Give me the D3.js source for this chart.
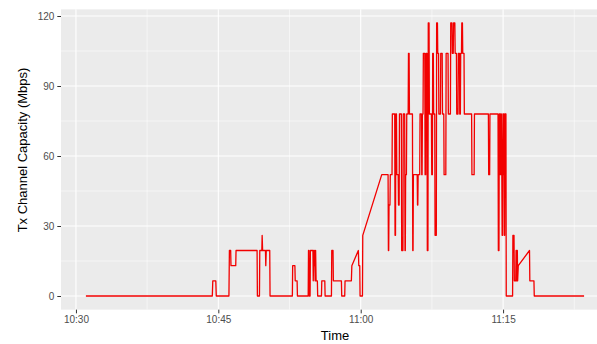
<!DOCTYPE html>
<meta charset="utf-8">
<style>
    /* ggplot-like look */
    body { margin: 0; background: #fff; }
    svg { display: block; overflow: hidden; }
    text { font-family: "Liberation Sans", Arial, Helvetica, sans-serif; }
    .panel { fill: #ebebeb; }
    .grid-major { stroke: #fff; stroke-width: 1.07px; }
    .grid-minor { stroke: #fff; stroke-width: 0.53px; }
    .line {
        fill: none;
        stroke: #f20000;
        stroke-width: 1.3px;
        stroke-linejoin: round;
    }
    .axis text { fill: #4d4d4d; font-size: 10px; }
    .axis line { stroke: #333; }
    .title { fill: #000; font-size: 13px; }
</style>
<body>
<script src="https://d3js.org/d3.v7.min.js"></script>
<script>
    // sample times (hh:mm:ss) and the channel capacity read at each one
    var times = [
        "10:31:03", "10:44:22", "10:44:25", "10:44:44", "10:44:47", "10:46:07", "10:46:10", "10:46:18",
        "10:46:20", "10:46:50", "10:46:52", "10:49:05", "10:49:07", "10:49:20", "10:49:22", "10:49:35",
        "10:49:37", "10:49:40", "10:49:58", "10:50:00", "10:50:03", "10:50:25", "10:50:27", "10:52:48",
        "10:52:50", "10:53:04", "10:53:06", "10:53:18", "10:53:20", "10:54:28", "10:54:30", "10:54:33",
        "10:54:35", "10:54:40", "10:54:42", "10:54:58", "10:55:00", "10:55:03", "10:55:06", "10:55:09",
        "10:55:12", "10:55:15", "10:55:18", "10:55:26", "10:55:28", "10:55:52", "10:55:54", "10:56:13",
        "10:56:15", "10:56:55", "10:56:57", "10:57:05", "10:57:07", "10:57:58", "10:58:00", "10:58:19",
        "10:58:21", "10:59:01", "10:59:04", "10:59:45", "10:59:48", "10:59:54", "10:59:56", "11:00:11",
        "11:00:13", "11:02:13", "11:02:34", "11:02:53", "11:02:55", "11:02:57", "11:02:59", "11:03:05",
        "11:03:07", "11:03:18", "11:03:20", "11:03:35", "11:03:37", "11:03:40", "11:03:42", "11:03:46",
        "11:03:48", "11:03:57", "11:03:59", "11:04:03", "11:04:05", "11:04:17", "11:04:19", "11:04:27",
        "11:04:29", "11:04:38", "11:04:40", "11:04:42", "11:04:44", "11:04:49", "11:04:51", "11:05:00",
        "11:05:02", "11:05:06", "11:05:08", "11:05:27", "11:05:29", "11:05:31", "11:05:33", "11:05:57",
        "11:05:59", "11:06:01", "11:06:03", "11:06:13", "11:06:15", "11:06:24", "11:06:26", "11:06:28",
        "11:06:30", "11:06:34", "11:06:36", "11:06:45", "11:06:47", "11:06:51", "11:06:53", "11:06:59",
        "11:07:01", "11:07:05", "11:07:07", "11:07:12", "11:07:14", "11:07:27", "11:07:29", "11:07:33",
        "11:07:35", "11:07:39", "11:07:41", "11:07:48", "11:07:50", "11:07:58", "11:08:00", "11:08:05",
        "11:08:07", "11:08:12", "11:08:14", "11:08:24", "11:08:26", "11:08:35", "11:08:37", "11:08:45",
        "11:08:47", "11:08:58", "11:09:00", "11:09:12", "11:09:14", "11:09:27", "11:09:29", "11:09:37",
        "11:09:39", "11:09:45", "11:09:47", "11:09:55", "11:09:57", "11:10:05", "11:10:07", "11:10:15",
        "11:10:17", "11:10:24", "11:10:26", "11:10:30", "11:10:32", "11:10:37", "11:10:39", "11:10:43",
        "11:10:45", "11:10:53", "11:10:55", "11:11:41", "11:11:43", "11:11:57", "11:11:59", "11:13:27",
        "11:13:29", "11:13:35", "11:13:37", "11:14:28", "11:14:30", "11:14:34", "11:14:36", "11:14:40",
        "11:14:42", "11:14:44", "11:14:47", "11:14:49", "11:14:52", "11:14:54", "11:14:57", "11:14:59",
        "11:15:01", "11:15:03", "11:15:06", "11:15:08", "11:15:10", "11:15:12", "11:15:18", "11:15:20",
        "11:16:00", "11:16:02", "11:16:09", "11:16:11", "11:16:20", "11:16:22", "11:16:24", "11:16:26",
        "11:16:28", "11:16:30", "11:16:32", "11:16:36", "11:17:47", "11:17:49", "11:18:15", "11:18:17",
        "11:23:32"
    ];
    var capacity = [
        0, 0, 6.5, 6.5, 0, 0, 19.5, 19.5,
        13, 13, 19.5, 19.5, 0, 0, 19.5, 19.5,
        26, 19.5, 19.5, 13, 19.5, 19.5, 0, 0,
        13, 13, 6.5, 6.5, 0, 0, 19.5, 19.5,
        0, 0, 19.5, 19.5, 6.5, 19.5, 13, 19.5,
        6.5, 19.5, 6.5, 6.5, 0, 0, 6.5, 6.5,
        0, 0, 19.5, 19.5, 6.5, 6.5, 0, 0,
        6.5, 6.5, 13, 19.5, 13, 13, 0, 0,
        26, 52, 52, 52, 19.5, 19.5, 39, 39,
        52, 52, 78, 78, 26, 26, 78, 78,
        52, 52, 39, 39, 78, 78, 19.5, 19.5,
        78, 78, 19.5, 19.5, 52, 52, 78, 78,
        104, 104, 78, 78, 19.5, 19.5, 52, 52,
        39, 39, 52, 52, 78, 78, 52, 52,
        78, 78, 104, 104, 52, 52, 104, 104,
        19.5, 19.5, 117, 117, 78, 78, 52, 52,
        104, 104, 78, 78, 26, 26, 117, 117,
        104, 104, 78, 78, 104, 104, 78, 78,
        52, 52, 104, 104, 78, 78, 117, 117,
        104, 104, 117, 117, 104, 104, 78, 78,
        104, 104, 78, 78, 104, 104, 117, 117,
        104, 104, 78, 78, 52, 52, 78, 78,
        52, 52, 78, 78, 19.5, 19.5, 78, 78,
        52, 78, 52, 78, 52, 26, 26, 78,
        52, 78, 78, 26, 26, 78, 78, 0,
        0, 26, 26, 6.5, 6.5, 19.5, 6.5, 19.5,
        6.5, 19.5, 6.5, 13, 19.5, 6.5, 6.5, 0,
        0
    ];

    // axis breaks
    var yTicks = [0, 30, 60, 90, 120];
    var yMinor = [15, 45, 75, 105];
    var xTickLabels = ["10:30", "10:45", "11:00", "11:15"];
    var xMinorLabels = ["10:37:30", "10:52:30", "11:07:30", "11:22:30"];

    var parseTime = d3.timeParse("%H:%M:%S");
    var parseTick = d3.timeParse("%H:%M");

    var data = times.map(function (t, i) {
        return { time: parseTime(t), cap: capacity[i] };
    });

    // panel size (right side runs past the picture edge, as in the source)
    var margin = { top: 9.35, left: 61 },
        width = 548,
        height = 300.3;

    var svg = d3.select("body").append("svg")
        .attr("width", 597)
        .attr("height", 344);

    var g = svg.append("g")
        .attr("transform", "translate(" + margin.left + "," + margin.top + ")");

    // scales with 5% padding like ggplot
    var xExt = d3.extent(data, function (d) { return d.time; });
    var xPad = (xExt[1] - xExt[0]) * 0.05;
    var x = d3.scaleTime()
        .domain([new Date(+xExt[0] - xPad), new Date(+xExt[1] + xPad)])
        .range([0, width]);

    var yExt = d3.extent(data, function (d) { return d.cap; });
    var yPad = (yExt[1] - yExt[0]) * 0.05;
    var y = d3.scaleLinear()
        .domain([yExt[0] - yPad, yExt[1] + yPad])
        .range([height, 0]);

    // panel background
    g.append("rect")
        .attr("class", "panel")
        .attr("width", width)
        .attr("height", height);

    // grid lines
    g.selectAll(".gy-minor").data(yMinor).enter().append("line")
        .attr("class", "grid-minor")
        .attr("x1", 0).attr("x2", width)
        .attr("y1", function (d) { return y(d); })
        .attr("y2", function (d) { return y(d); });

    g.selectAll(".gx-minor").data(xMinorLabels).enter().append("line")
        .attr("class", "grid-minor")
        .attr("y1", 0).attr("y2", height)
        .attr("x1", function (d) { return x(parseTime(d)); })
        .attr("x2", function (d) { return x(parseTime(d)); });

    g.selectAll(".gy-major").data(yTicks).enter().append("line")
        .attr("class", "grid-major")
        .attr("x1", 0).attr("x2", width)
        .attr("y1", function (d) { return y(d); })
        .attr("y2", function (d) { return y(d); });

    g.selectAll(".gx-major").data(xTickLabels).enter().append("line")
        .attr("class", "grid-major")
        .attr("y1", 0).attr("y2", height)
        .attr("x1", function (d) { return x(parseTick(d)); })
        .attr("x2", function (d) { return x(parseTick(d)); });

    // the capacity trace
    var valueline = d3.line()
        .x(function (d) { return x(d.time); })
        .y(function (d) { return y(d.cap); });

    g.append("path")
        .datum(data)
        .attr("class", "line")
        .attr("d", valueline);

    // x axis
    var xAxis = g.append("g")
        .attr("class", "axis")
        .attr("transform", "translate(0," + height + ")")
        .call(d3.axisBottom(x)
            .tickValues(xTickLabels.map(parseTick))
            .tickFormat(d3.timeFormat("%H:%M"))
            .tickSize(3.7)
            .tickPadding(3));
    xAxis.select(".domain").remove();

    // y axis
    var yAxis = g.append("g")
        .attr("class", "axis")
        .call(d3.axisLeft(y)
            .tickValues(yTicks)
            .tickSize(3.7)
            .tickPadding(3));
    yAxis.select(".domain").remove();

    // axis titles
    svg.append("text")
        .attr("class", "title")
        .attr("x", margin.left + width / 2)
        .attr("y", 340)
        .style("text-anchor", "middle")
        .text("Time");

    svg.append("text")
        .attr("class", "title")
        .attr("transform", "translate(27,150) rotate(-90)")
        .style("text-anchor", "middle")
        .text("Tx Channel Capacity (Mbps)");
</script>
</body>
